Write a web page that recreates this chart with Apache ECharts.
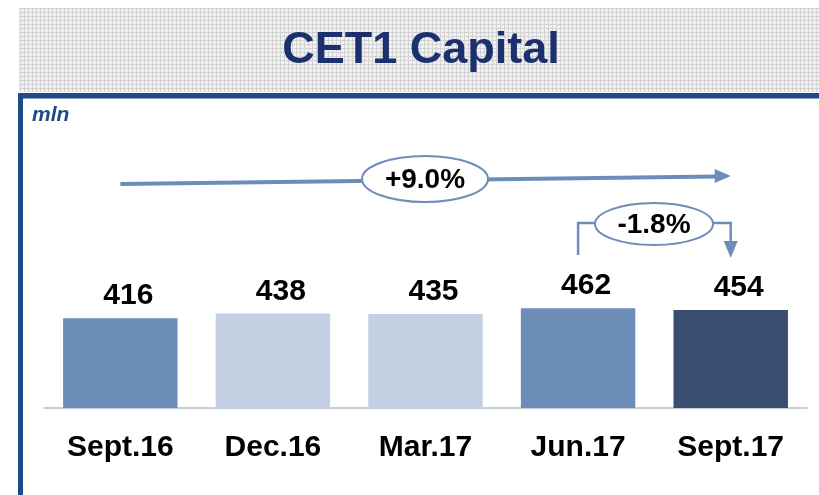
<!DOCTYPE html>
<html>
<head>
<meta charset="utf-8">
<script src="https://cdn.jsdelivr.net/npm/echarts@6/dist/echarts.min.js"></script>
<style>
html, body { margin: 0; padding: 0; background: #fff; }
#chart { width: 819px; height: 495px; }
</style>
</head>
<body>
<div id="chart"></div>
<script>
const categories = ["Sept.16", "Dec.16", "Mar.17", "Jun.17", "Sept.17"];
const values = [416, 438, 435, 462, 454];
const barColors = ["#6d8db9", "#c4cfe1", "#c4cfe1", "#6d8db9", "#3a4d6e"];
const totalGrowth = "+9.0%";
const lastGrowth = "-1.8%";

const arrowColor = "#6d8db9";
const navy = "#1f4a85";

// light plaid fill of the header band
const makePattern = () => {
    const c = document.createElement("canvas");
    c.width = 4;
    c.height = 4;
    const ctx = c.getContext("2d");
    ctx.fillStyle = "#f1f1f1";
    ctx.fillRect(0, 0, 4, 4);
    ctx.fillStyle = "#d3d3d3";
    ctx.fillRect(0, 0, 1, 4);
    ctx.fillRect(0, 0, 4, 1);
    return c;
};

const graph = echarts.init(document.getElementById("chart"));

const option = {
    animation: false,
    grid: { left: 44, right: 12, top: 192, bottom: 87 },
    xAxis: {
        type: "category",
        data: categories,
        axisLine: { show: true, lineStyle: { color: "#c5cfe0", width: 2 } },
        axisTick: { show: false },
        axisLabel: {
            margin: 25,
            color: "#000",
            fontSize: 30,
            fontWeight: "bold",
            fontFamily: "Liberation Sans, Arial, sans-serif",
        },
    },
    yAxis: {
        type: "value",
        min: 0,
        max: 1000,
        show: false,
        splitLine: { show: false },
    },
    series: [
        {
            type: "bar",
            barCategoryGap: "25%",
            data: values.map((v, i) => ({ value: v, itemStyle: { color: barColors[i] } })),
            label: {
                show: true,
                position: "top",
                distance: 7,
                offset: [8, 0],
                color: "#000",
                fontSize: 30,
                fontWeight: "bold",
                fontFamily: "Liberation Sans, Arial, sans-serif",
            },
        },
    ],
};
graph.setOption(option);

const xAt = i => graph.convertToPixel({ xAxisIndex: 0 }, i);

const drawDecor = () => {
    const x0 = xAt(0);
    const x3 = xAt(3);
    const x4 = xAt(4);
    const pctFont = "bold 28px 'Liberation Sans', Arial, sans-serif";
    const els = [
        // header band
        {
            type: "rect",
            shape: { x: 19, y: 8, width: 800, height: 84 },
            style: { fill: { image: makePattern(), repeat: "repeat" } },
        },
        {
            type: "text",
            x: 421,
            y: 51,
            style: {
                text: "CET1 Capital",
                font: "bold 45px 'Liberation Sans', Arial, sans-serif",
                fill: "#1c2f6e",
                align: "center",
                verticalAlign: "middle",
            },
        },
        // frame
        { type: "rect", shape: { x: 18, y: 93, width: 801, height: 5 }, style: { fill: navy } },
        { type: "rect", shape: { x: 18, y: 98, width: 801, height: 1 }, style: { fill: "#8aa3c6" } },
        { type: "rect", shape: { x: 18, y: 93, width: 5, height: 402 }, style: { fill: navy } },
        {
            type: "text",
            x: 32,
            y: 115,
            style: {
                text: "mln",
                font: "italic bold 21px 'Liberation Sans', Arial, sans-serif",
                fill: navy,
                verticalAlign: "middle",
            },
        },
        // long arrow
        {
            type: "line",
            shape: { x1: x0, y1: 184, x2: x4 - 14, y2: 176.5 },
            style: { stroke: arrowColor, lineWidth: 4 },
        },
        {
            type: "polygon",
            shape: { points: [[x4, 176], [x4 - 16, 169], [x4 - 16, 183]] },
            style: { fill: arrowColor },
        },
        {
            type: "ellipse",
            shape: { cx: 425, cy: 179, rx: 63, ry: 23 },
            style: { fill: "#fff", stroke: arrowColor, lineWidth: 2 },
        },
        {
            type: "text",
            x: 425,
            y: 180,
            style: { text: totalGrowth, font: pctFont, fill: "#000", align: "center", verticalAlign: "middle" },
        },
        // bracket arrow
        {
            type: "polyline",
            shape: { points: [[x3, 255], [x3, 223], [x4, 223], [x4, 244]] },
            style: { stroke: arrowColor, lineWidth: 2.5, fill: null },
        },
        {
            type: "polygon",
            shape: { points: [[x4, 258], [x4 - 7, 241], [x4 + 7, 241]] },
            style: { fill: arrowColor },
        },
        {
            type: "ellipse",
            shape: { cx: 654, cy: 224, rx: 59, ry: 21 },
            style: { fill: "#fff", stroke: arrowColor, lineWidth: 2 },
        },
        {
            type: "text",
            x: 654,
            y: 225,
            style: { text: lastGrowth, font: pctFont, fill: "#000", align: "center", verticalAlign: "middle" },
        },
    ];
    graph.setOption({ graphic: { elements: els } });
};
drawDecor();
</script>
</body>
</html>
